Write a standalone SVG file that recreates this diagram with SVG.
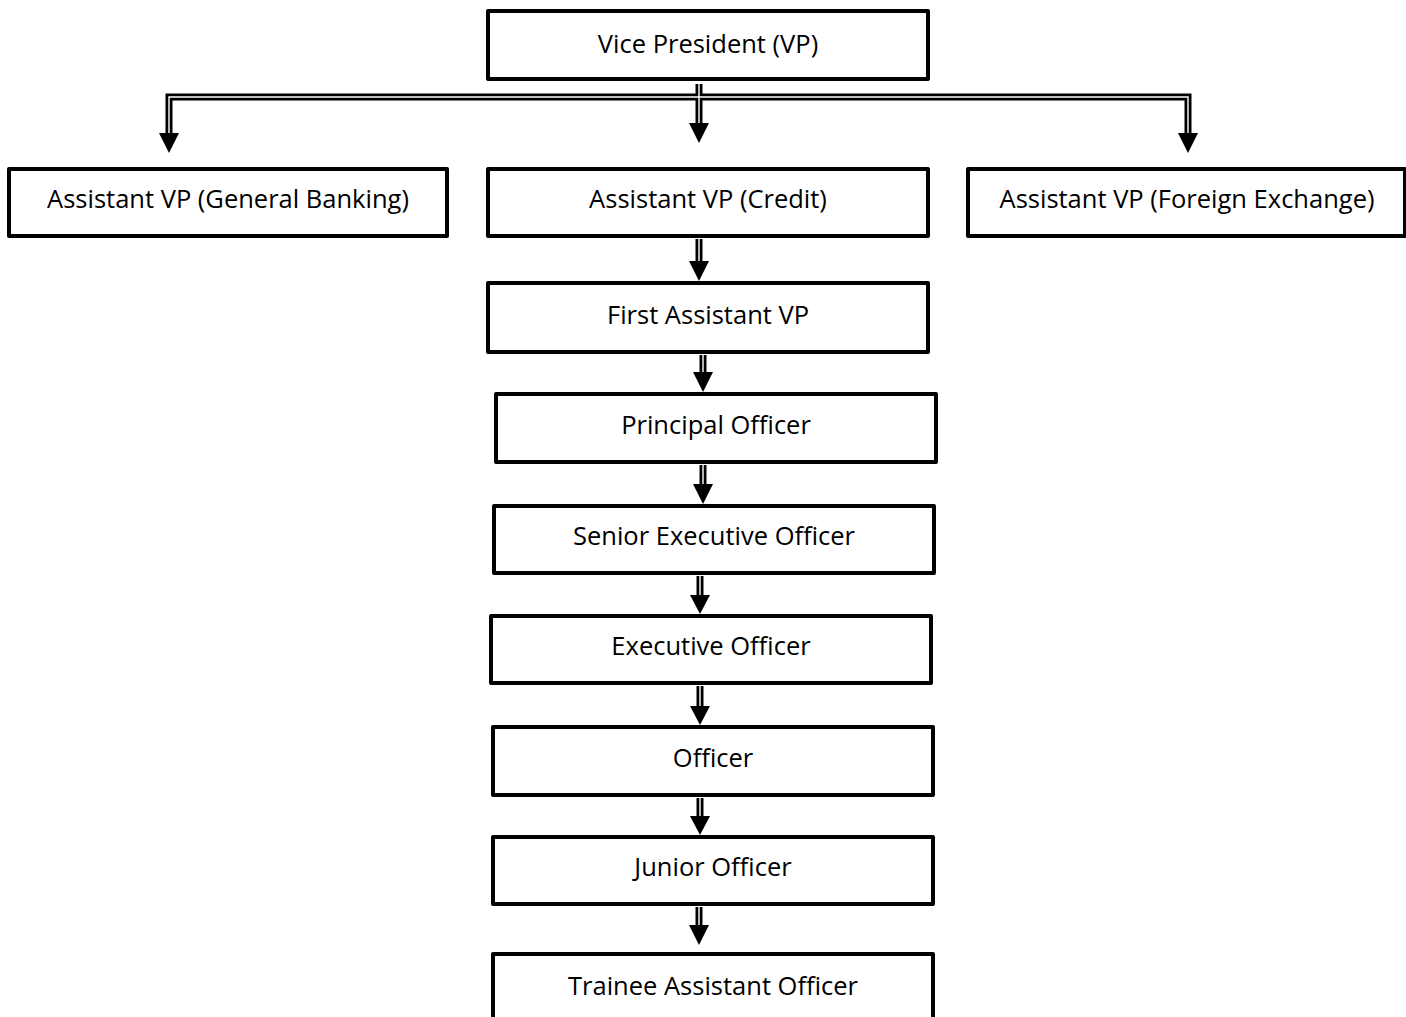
<svg xmlns="http://www.w3.org/2000/svg" width="1406" height="1017" viewBox="0 0 1406 1017">
<style>
.box{fill:#fff;stroke:#000;stroke-width:4;stroke-linejoin:round}
.t{font-family:"Open Sans","Noto Sans",sans-serif;font-size:25.5px;fill:#000;text-anchor:middle}
.ob{fill:none;stroke:#000;stroke-width:7}
.ib{fill:none;stroke:#fff;stroke-width:1.4}
</style>
<rect width="1406" height="1017" fill="#fff"/>
<g id="connectors">
<path class="ob" d="M169,133 V97 H1188 V133"/>
<path class="ob" d="M699,84 V123"/>
<path class="ob" d="M699,239 V262"/>
<path class="ob" d="M703,355 V373"/>
<path class="ob" d="M703,465 V485"/>
<path class="ob" d="M700,576 V596"/>
<path class="ob" d="M700,686 V707"/>
<path class="ob" d="M700,798 V817"/>
<path class="ob" d="M699,907 V926"/>
<path class="ib" d="M169,133 V97 H1188 V133"/>
<path class="ib" d="M699,84 V123"/>
<path class="ib" d="M699,239 V262"/>
<path class="ib" d="M703,355 V373"/>
<path class="ib" d="M703,465 V485"/>
<path class="ib" d="M700,576 V596"/>
<path class="ib" d="M700,686 V707"/>
<path class="ib" d="M700,798 V817"/>
<path class="ib" d="M699,907 V926"/>
<g fill="#000">
<polygon points="159,133 179,133 169,153"/>
<polygon points="689,123 709,123 699,143"/>
<polygon points="1178,133 1198,133 1188,153"/>
<polygon points="689,261 709,261 699,281"/>
<polygon points="693,372 713,372 703,392"/>
<polygon points="693,484 713,484 703,504"/>
<polygon points="690,595 710,595 700,614"/>
<polygon points="690,706 710,706 700,725"/>
<polygon points="690,816 710,816 700,835"/>
<polygon points="689,925 709,925 699,945"/>
</g>
</g>
<g id="n-vp"><rect class="box" x="488" y="11" width="440" height="68"/><text class="t" x="708" y="53">Vice President (VP)</text></g>
<g id="n-gb"><rect class="box" x="9" y="169" width="438" height="67"/><text class="t" x="228" y="208">Assistant VP (General Banking)</text></g>
<g id="n-credit"><rect class="box" x="488" y="169" width="440" height="67"/><text class="t" x="708" y="208">Assistant VP (Credit)</text></g>
<g id="n-fx"><rect class="box" x="968" y="169" width="437" height="67"/><text class="t" x="1187" y="208">Assistant VP (Foreign Exchange)</text></g>
<g id="n-favp"><rect class="box" x="488" y="283" width="440" height="69"/><text class="t" x="708" y="324">First Assistant VP</text></g>
<g id="n-po"><rect class="box" x="496" y="394" width="440" height="68"/><text class="t" x="716" y="434">Principal Officer</text></g>
<g id="n-seo"><rect class="box" x="494" y="506" width="440" height="67"/><text class="t" x="714" y="545">Senior Executive Officer</text></g>
<g id="n-eo"><rect class="box" x="491" y="616" width="440" height="67"/><text class="t" x="711" y="655">Executive Officer</text></g>
<g id="n-o"><rect class="box" x="493" y="727" width="440" height="68"/><text class="t" x="713" y="767">Officer</text></g>
<g id="n-jo"><rect class="box" x="493" y="837" width="440" height="67"/><text class="t" x="713" y="876">Junior Officer</text></g>
<g id="n-tao"><rect class="box" x="493" y="954" width="440" height="80"/><text class="t" x="713" y="995">Trainee Assistant Officer</text></g>
</svg>
